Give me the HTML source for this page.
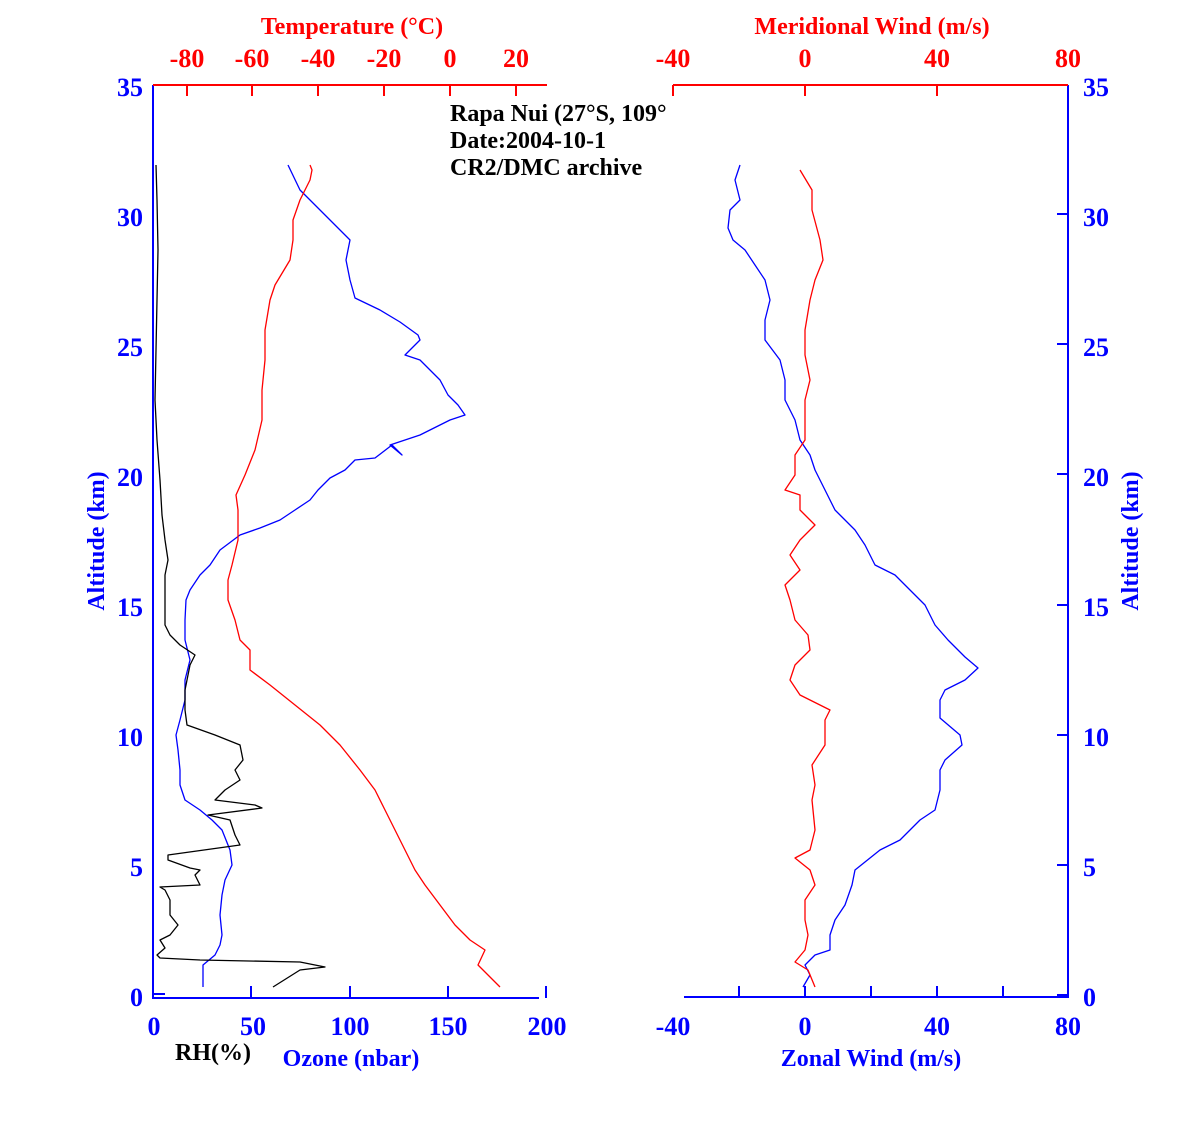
<!DOCTYPE html>
<html><head><meta charset="utf-8"><style>body{margin:0;background:#fff}svg{display:block}text{font-family:"Liberation Serif",serif;font-weight:bold}</style></head><body>
<svg width="1181" height="1122" xmlns="http://www.w3.org/2000/svg">
<defs><clipPath id="c"><rect x="0" y="0" width="673" height="1122"/></clipPath></defs>
<g fill="none" stroke-width="2">
<path d="M153,85V998H539" stroke="#00f"/>
<path d="M546,986V998" stroke="#00f"/>
<path d="M251,986V998M350,986V998M448,986V998M153,994H165" stroke="#00f"/>
<path d="M153,85H547" stroke="#f00"/>
<path d="M187,85V96M252,85V96M318,85V96M384,85V96M450,85V96M516,85V96" stroke="#f00"/>
<path d="M684,997H1068V85" stroke="#00f"/>
<path d="M739,986V997M805,986V997M871,986V997M937,986V997M1003,986V997" stroke="#00f"/>
<path d="M1068,214H1057M1068,344H1057M1068,474H1057M1068,605H1057M1068,735H1057M1068,865H1057M1068,995H1057" stroke="#00f"/>
<path d="M673,85H1068" stroke="#f00"/>
<path d="M673,85V96M805,85V96M937,85V96" stroke="#f00"/>
</g>
<g fill="none" stroke-width="1.3" stroke-linejoin="round">
<polyline stroke="#00f" points="203,987 203,965 215,955 220,945 222,935 220,915 222,895 225,880 232,865 230,850 222,830 212,820 200,810 185,800 180,785 180,770 178,750 176,735 180,720 185,700 185,680 190,660 185,640 185,620 186,600 190,590 200,575 210,565 220,550 240,535 260,528 280,520 295,510 310,500 318,490 330,478 345,470 355,460 375,458 392,445 402,455 390,445 420,435 450,420 465,415 458,405 448,395 440,380 430,370 420,360 405,355 420,340 418,335 400,322 380,310 355,298 350,280 346,260 350,240 340,230 320,210 300,190 288,165"/>
<polyline stroke="#f00" points="500,987 478,965 485,950 470,940 455,925 440,905 425,885 415,870 405,850 395,830 385,810 375,790 360,770 340,745 320,725 295,705 270,685 250,670 250,650 240,640 235,620 228,600 228,580 232,565 238,540 238,510 236,495 245,475 255,450 262,420 262,390 265,360 265,330 270,300 275,285 290,260 293,240 293,220 300,200 310,180 312,170 310,165"/>
<polyline stroke="#000" points="273,987 300,970 325,967 300,962 200,960 160,958 157,955 165,948 160,940 170,935 178,925 170,915 170,900 165,890 160,887 200,885 195,875 200,870 190,868 168,860 168,855 240,845 235,835 230,820 208,815 262,808 255,805 215,800 225,790 240,780 235,770 243,760 240,745 215,735 187,725 185,710 185,690 190,665 195,655 180,645 170,635 165,625 165,600 165,575 168,560 165,540 162,515 160,480 157,440 155,400 156,350 157,300 158,250 157,200 156,165"/>
<polyline stroke="#00f" points="803,987 810,975 805,965 815,955 830,950 830,935 835,920 845,905 852,885 855,870 880,850 900,840 920,820 935,810 940,790 940,770 945,760 962,745 960,735 940,718 940,700 945,690 965,680 978,668 965,657 948,640 935,625 925,605 910,590 895,575 875,565 865,545 855,530 835,510 825,490 815,470 810,455 800,440 795,420 785,400 785,380 780,360 765,340 765,320 770,300 765,280 755,265 745,250 733,240 728,228 730,210 740,200 735,180 740,165"/>
<polyline stroke="#f00" points="815,987 808,970 795,962 805,950 808,935 805,920 805,900 815,885 810,870 795,858 810,850 815,830 812,800 815,785 812,765 825,745 825,720 830,710 800,695 790,680 795,665 810,650 808,635 795,620 790,600 785,585 800,570 790,555 800,540 815,525 800,510 800,495 785,490 795,475 795,455 805,440 805,400 810,380 805,355 805,330 810,300 815,280 823,260 820,240 812,210 812,190 800,170"/>
</g>
<g font-size="26" fill="#00f" text-anchor="end">
<text x="143" y="96">35</text><text x="143" y="226">30</text><text x="143" y="356">25</text><text x="143" y="486">20</text><text x="143" y="616">15</text><text x="143" y="746">10</text><text x="143" y="876">5</text><text x="143" y="1006">0</text>
</g>
<g font-size="26" fill="#00f">
<text x="1083" y="96">35</text><text x="1083" y="226">30</text><text x="1083" y="356">25</text><text x="1083" y="486">20</text><text x="1083" y="616">15</text><text x="1083" y="746">10</text><text x="1083" y="876">5</text><text x="1083" y="1006">0</text>
</g>
<g font-size="26" fill="#00f" text-anchor="middle">
<text x="154" y="1035">0</text><text x="253" y="1035">50</text><text x="350" y="1035">100</text><text x="448" y="1035">150</text><text x="547" y="1035">200</text>
<text x="673" y="1035">-40</text><text x="805" y="1035">0</text><text x="937" y="1035">40</text><text x="1068" y="1035">80</text>
<text x="351" y="1066" font-size="24">Ozone (nbar)</text>
<text x="871" y="1066" font-size="24">Zonal Wind (m/s)</text>
<text transform="translate(104,541) rotate(-90)" font-size="24">Altitude (km)</text>
<text transform="translate(1138,541) rotate(-90)" font-size="24">Altitude (km)</text>
</g>
<text x="213" y="1060" font-size="24" fill="#000" text-anchor="middle">RH(%)</text>
<g font-size="26" fill="#f00" text-anchor="middle">
<text x="187" y="67">-80</text><text x="252" y="67">-60</text><text x="318" y="67">-40</text><text x="384" y="67">-20</text><text x="450" y="67">0</text><text x="516" y="67">20</text>
<text x="673" y="67">-40</text><text x="805" y="67">0</text><text x="937" y="67">40</text><text x="1068" y="67">80</text>
<text x="352" y="34" font-size="24">Temperature (°C)</text>
<text x="872" y="34" font-size="24">Meridional Wind (m/s)</text>
</g>
<g font-size="24" fill="#000" clip-path="url(#c)">
<text x="450" y="121">Rapa Nui (27°S, 109°</text>
<text x="450" y="148">Date:2004-10-1</text>
<text x="450" y="175">CR2/DMC archive</text>
</g>
</svg>
</body></html>
